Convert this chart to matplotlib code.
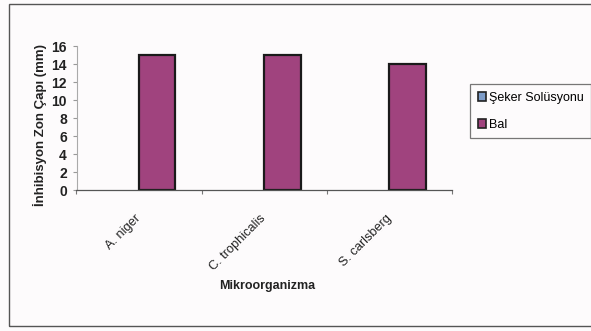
import numpy as np
import matplotlib
matplotlib.use("Agg")
import matplotlib.pyplot as plt
from matplotlib.patches import Patch, Rectangle

plt.rcParams['font.family'] = ['Liberation Sans', 'DejaVu Sans']

categories = ["A. niger", "C. trophicalis", "S. carlsberg"]
seker_values = [0, 0, 0]
bal_values = [15.0, 15.0, 14.0]
series_names = ["Şeker Solüsyonu", "Bal"]
y_ticks = [0, 2, 4, 6, 8, 10, 12, 14, 16]

W, H = 591, 331
fig = plt.figure(figsize=(W / 100, H / 100), dpi=100, facecolor='#fdfbfc')

# outer chart frame
fig.patches.append(Rectangle((9 / W, 1 - 326 / H), (W + 20) / W, (322) / H,
                             transform=fig.transFigure, fill=False,
                             edgecolor='#555555', linewidth=1.0))

ax = fig.add_axes([76.5 / W, 1 - 190 / H, (452 - 76.5) / W, 144 / H])
ax.set_facecolor('none')

x = np.arange(len(categories))
bw = 0.29
seker_color = '#7d9cc8'
bal_color = '#a0437e'

ax.bar(x - bw / 2, seker_values, bw, color=seker_color, linewidth=0)
ax.bar(x + bw / 2, bal_values, bw, color=bal_color, edgecolor='#1a1a1a', linewidth=1.6)

ax.set_xlim(-0.5, len(categories) - 0.5)
ax.set_ylim(0, 16)
ax.set_yticks(y_ticks)
ax.set_yticklabels([str(v) for v in y_ticks], fontsize=10, fontweight='bold', color='#222222')

# category ticks sit on group boundaries
ax.set_xticks(np.arange(len(categories) + 1) - 0.5)
ax.set_xticklabels([])
ax.set_xticks(x, minor=True)
ax.set_xticklabels(categories, minor=True, rotation=45, ha='right', va='center',
                   rotation_mode='anchor', fontsize=9.2, color='#222222')
ax.tick_params(axis='x', which='minor', length=0, pad=19)
ax.tick_params(axis='x', which='major', length=3, color='#777777', direction='out')
ax.tick_params(axis='y', length=3, color='#999999', direction='out', pad=4)

for s in ['top', 'right']:
    ax.spines[s].set_visible(False)
ax.spines['left'].set_color('#aaaaaa')
ax.spines['left'].set_linestyle((0, (3, 1)))
ax.spines['left'].set_linewidth(0.8)
ax.spines['bottom'].set_color('#555555')
ax.spines['bottom'].set_linewidth(0.9)

fig.text(40 / W, 1 - 125 / H, "İnhibisyon Zon Çapı (mm)", rotation=90,
         ha='center', va='center', fontsize=9.5, fontweight='bold', color='#222222')
fig.text(267 / W, 1 - 286 / H, "Mikroorganizma", ha='center', va='center',
         fontsize=9, fontweight='bold', color='#222222')

handles = [Patch(facecolor=seker_color, edgecolor='#222222', linewidth=1.2),
           Patch(facecolor=bal_color, edgecolor='#222222', linewidth=1.2)]
leg = fig.legend(handles, series_names, loc='upper left',
                 bbox_to_anchor=(470 / W, 1 - 84 / H), frameon=True,
                 fancybox=False, edgecolor='#555555', fontsize=9,
                 handlelength=0.7, handleheight=0.7, handletextpad=0.2,
                 labelspacing=1.2, borderpad=0.6, borderaxespad=0)
leg.get_frame().set_linewidth(0.9)
leg.get_frame().set_facecolor('#fdfbfc')

fig.savefig("out.png", dpi=100, facecolor=fig.get_facecolor())
